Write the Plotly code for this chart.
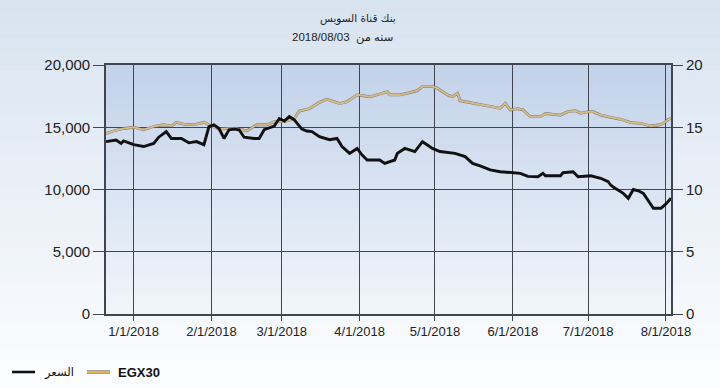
import plotly.graph_objects as go

# ---------------- data ----------------
price_dates = ["2017-12-21","2017-12-25","2017-12-27","2017-12-28","2018-01-01","2018-01-05","2018-01-09","2018-01-10",
    "2018-01-11","2018-01-14","2018-01-16","2018-01-20","2018-01-23","2018-01-26","2018-01-29","2018-01-31",
    "2018-02-02","2018-02-04","2018-02-06","2018-02-08","2018-02-10","2018-02-12","2018-02-14","2018-02-18",
    "2018-02-20","2018-02-22","2018-02-26","2018-02-28","2018-03-02","2018-03-04","2018-03-06","2018-03-09",
    "2018-03-11","2018-03-13","2018-03-16","2018-03-20","2018-03-23","2018-03-25","2018-03-28","2018-03-31",
    "2018-04-02","2018-04-04","2018-04-09","2018-04-11","2018-04-15","2018-04-16","2018-04-19","2018-04-23",
    "2018-04-26","2018-04-28","2018-04-30","2018-05-03","2018-05-07","2018-05-09","2018-05-13","2018-05-16",
    "2018-05-19","2018-05-23","2018-05-27","2018-06-01","2018-06-04","2018-06-07","2018-06-11","2018-06-13",
    "2018-06-14","2018-06-20","2018-06-21","2018-06-25","2018-06-27","2018-07-02","2018-07-06","2018-07-09",
    "2018-07-10","2018-07-11","2018-07-13","2018-07-15","2018-07-17","2018-07-19","2018-07-21","2018-07-23",
    "2018-07-27","2018-07-30","2018-08-01","2018-08-03"]
price_values = [13.84,13.97,13.70,13.90,13.60,13.45,13.70,14.00,
    14.20,14.65,14.10,14.10,13.75,13.85,13.60,15.05,
    15.20,14.90,14.10,14.80,14.85,14.80,14.20,14.10,
    14.10,14.80,15.10,15.70,15.50,15.85,15.60,14.85,
    14.70,14.65,14.25,14.00,14.10,13.45,12.90,13.30,
    12.77,12.37,12.37,12.10,12.37,12.90,13.30,13.05,
    13.84,13.57,13.30,13.05,12.96,12.90,12.64,12.10,
    11.89,11.57,11.43,11.35,11.30,11.05,11.03,11.30,
    11.10,11.10,11.35,11.43,11.03,11.10,10.90,10.63,
    10.36,10.20,9.96,9.69,9.29,10.00,9.90,9.69,
    8.49,8.49,8.84,9.29]

egx_dates = ["2017-12-21","2017-12-24","2017-12-28","2018-01-01","2018-01-05","2018-01-09","2018-01-13","2018-01-16",
    "2018-01-18","2018-01-22","2018-01-26","2018-01-29","2018-02-01","2018-02-04","2018-02-07","2018-02-11",
    "2018-02-15","2018-02-19","2018-02-23","2018-02-26","2018-03-02","2018-03-06","2018-03-08","2018-03-12",
    "2018-03-16","2018-03-19","2018-03-24","2018-03-27","2018-03-31","2018-04-05","2018-04-09","2018-04-12",
    "2018-04-13","2018-04-17","2018-04-21","2018-04-24","2018-04-26","2018-04-30","2018-05-02","2018-05-06",
    "2018-05-08","2018-05-10","2018-05-11","2018-05-15","2018-05-19","2018-05-23","2018-05-27","2018-05-29",
    "2018-05-31","2018-06-03","2018-06-05","2018-06-08","2018-06-12","2018-06-14","2018-06-20","2018-06-23",
    "2018-06-26","2018-06-28","2018-07-01","2018-07-03","2018-07-06","2018-07-10","2018-07-14","2018-07-18",
    "2018-07-22","2018-07-26","2018-07-29","2018-07-31","2018-08-02","2018-08-03"]
egx_values = [14500,14700,14900,15000,14800,15060,15200,15100,
    15400,15200,15250,15400,15100,14850,14900,14900,
    14700,15200,15200,15450,15450,15700,16300,16500,
    17000,17250,16900,17050,17600,17450,17670,17860,
    17600,17600,17780,17940,18270,18270,18130,17600,
    17450,17720,17130,16970,16790,16650,16520,16920,
    16390,16500,16400,15850,15850,16100,15980,16250,
    16330,16120,16250,16250,15980,15800,15640,15370,
    15320,15100,15180,15320,15640,15700]

title_line1 = "بنك قناة السويس"
title_line2 = "سنه من  2018/08/03"
price_name = "السعر"
egx_name = "EGX30"

# ---------------- layout helpers ----------------
W, H = 720, 388
PL, PR, PT, PB = 106, 671, 65, 314
pw, ph = PR - PL, PB - PT

def px_x(x):
    return (x - PL) / pw

def px_y(y):
    return (PB - y) / ph

def mix(c1, c2, t):
    return "rgb(%d,%d,%d)" % tuple(round(a + (b - a) * t) for a, b in zip(c1, c2))

shapes = []
n = 60
fig_top, fig_bot = (216, 227, 240), (252, 253, 255)
for i in range(n):
    y0 = H * i / n
    y1 = H * (i + 1) / n + 0.5
    shapes.append(dict(type="rect", xref="paper", yref="paper", layer="below",
                       x0=px_x(0), x1=px_x(W), y0=px_y(y1), y1=px_y(y0),
                       line=dict(width=0), fillcolor=mix(fig_top, fig_bot, i / (n - 1))))
pa_top, pa_bot = (194, 210, 233), (241, 245, 251)
for i in range(n):
    y0 = PT + ph * i / n
    y1 = PT + ph * (i + 1) / n + 0.5
    shapes.append(dict(type="rect", xref="paper", yref="paper", layer="below",
                       x0=0, x1=1, y0=px_y(min(y1, PB)), y1=px_y(y0),
                       line=dict(width=0), fillcolor=mix(pa_top, pa_bot, i / (n - 1))))

# manual legend (keeps plot area fixed)
ly = px_y(372)
shapes.append(dict(type="line", xref="paper", yref="paper", layer="above",
                   x0=px_x(12), x1=px_x(35), y0=ly, y1=ly, line=dict(color="#111111", width=2.6)))
shapes.append(dict(type="line", xref="paper", yref="paper", layer="above",
                   x0=px_x(87), x1=px_x(110), y0=ly, y1=ly, line=dict(color="rgba(80,65,40,0.8)", width=3.2)))
shapes.append(dict(type="line", xref="paper", yref="paper", layer="above",
                   x0=px_x(87), x1=px_x(110), y0=ly, y1=ly, line=dict(color="#e2b54e", width=2.0)))

fig = go.Figure()
fig.add_trace(go.Scatter(x=egx_dates, y=egx_values, mode="lines", yaxis="y",
                         line=dict(color="rgba(85,75,55,0.7)", width=2.8),
                         showlegend=False, hoverinfo="skip"))
fig.add_trace(go.Scatter(x=egx_dates, y=egx_values, mode="lines", yaxis="y", name=egx_name,
                         line=dict(color="#d6bb88", width=2.0), showlegend=False))
fig.add_trace(go.Scatter(x=price_dates, y=price_values, mode="lines", yaxis="y2", name=price_name,
                         line=dict(color="#111111", width=2.9), showlegend=False))

gridc = "#3f4652"
axis_font = dict(family="Liberation Sans, Arial, sans-serif", size=15, color="#222222")

fig.update_layout(
    width=W, height=H,
    margin=dict(l=PL, r=W - PR, t=PT, b=H - PB, pad=0),
    paper_bgcolor="white", plot_bgcolor="rgba(0,0,0,0)",
    shapes=shapes,
    showlegend=False,
    xaxis=dict(type="date", range=["2017-12-21", "2018-08-03"],
               tick0="2018-01-01", dtick="M1", tickformat="%-m/%-d/%Y",
               showgrid=True, gridcolor=gridc, gridwidth=1.4,
               showline=True, linecolor=gridc, linewidth=1.6, mirror=True,
               ticks="outside", ticklen=5, tickcolor=gridc, tickwidth=1.2,
               tickfont=dict(family="Liberation Sans, Arial, sans-serif", size=13, color="#222222"),
               zeroline=False, fixedrange=True, automargin=False),
    yaxis=dict(range=[0, 20000], dtick=5000, tickformat=",",
               showgrid=True, gridcolor=gridc, gridwidth=1.4,
               showline=True, linecolor=gridc, linewidth=1.6, mirror=True,
               ticks="outside", ticklen=11, tickcolor=gridc, tickwidth=1.2,
               tickfont=axis_font, zeroline=False, automargin=False),
    yaxis2=dict(range=[0, 20], dtick=5, overlaying="y", side="right",
                showgrid=False, showline=False, zeroline=False,
                ticks="outside", ticklen=11, tickcolor=gridc, tickwidth=1.2,
                tickfont=axis_font, automargin=False),
    annotations=[
        dict(text=title_line1, xref="paper", yref="paper", x=px_x(358), y=px_y(18),
             showarrow=False, xanchor="center", yanchor="middle",
             font=dict(family="DejaVu Sans, sans-serif", size=10.5, color="#222222")),
        dict(text=title_line2, xref="paper", yref="paper", x=px_x(342), y=px_y(38),
             showarrow=False, xanchor="center", yanchor="middle",
             font=dict(family="Liberation Sans, DejaVu Sans, sans-serif", size=11.5, color="#222222")),
        dict(text=price_name, xref="paper", yref="paper", x=px_x(42), y=ly,
             showarrow=False, xanchor="left", yanchor="middle",
             font=dict(family="DejaVu Sans, sans-serif", size=11.5, color="#111111")),
        dict(text="<b>" + egx_name + "</b>", xref="paper", yref="paper", x=px_x(116), y=ly,
             showarrow=False, xanchor="left", yanchor="middle",
             font=dict(family="Liberation Sans, Arial, sans-serif", size=13, color="#111111")),
    ],
)

fig.write_html("out.html")
